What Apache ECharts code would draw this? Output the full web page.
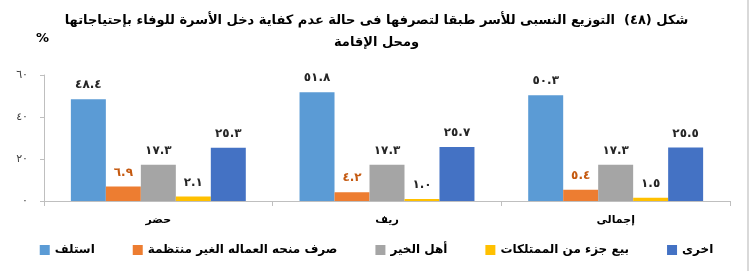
<!DOCTYPE html>
<html>
<head>
<meta charset="utf-8">
<script src="https://cdn.jsdelivr.net/npm/echarts@6/dist/echarts.min.js"></script>
<style>
html,body{margin:0;padding:0;background:#fff;}
#chart{width:753px;height:271px;}
</style>
</head>
<body>
<div id="chart"></div>
<script>
const titleText = 'شكل (٤٨)  التوزيع النسبى للأسر طبقا لتصرفها فى حالة عدم كفاية دخل الأسرة للوفاء بإحتياجاتها\nومحل الإقامة';
const categories = ['حضر', 'ريف', 'إجمالى'];
const seriesNames = ['استلف', 'صرف منحه العماله الغير منتظمة', 'أهل الخير', 'بيع جزء من الممتلكات', 'اخرى'];
const borrow = [48.4, 51.8, 50.3];
const grant = [6.9, 4.2, 5.4];
const charity = [17.3, 17.3, 17.3];
const sellAssets = [2.1, 1.0, 1.5];
const other = [25.3, 25.7, 25.5];
const yTicks = [0, 20, 40, 60];
const yTickLabels = ['٠', '٢٠', '٤٠', '٦٠'];

const colors = ['#5B9BD5', '#ED7D31', '#A5A5A5', '#FFC000', '#4472C4'];
const labelColors = ['#262626', '#C55A11', '#262626', '#262626', '#262626'];
const FONT = '"DejaVu Sans", sans-serif';

function toArabicDigits(v) {
  const d = '٠١٢٣٤٥٦٧٨٩';
  return v.toFixed(1).replace(/[0-9]/g, c => d[+c]);
}

const allData = [borrow, grant, charity, sellAssets, other];

const chart = echarts.init(document.getElementById('chart'), null, {renderer: 'canvas'});
chart.setOption({
  animation: false,
  color: colors,
  title: {
    text: titleText,
    left: 'center',
    top: 5,
    textStyle: {fontFamily: FONT, fontSize: 13, fontWeight: 'bold', color: '#000', lineHeight: 22}
  },
  graphic: [
    {type: 'text', left: 36, top: 32, style: {text: '%', font: 'bold 13px "DejaVu Sans", sans-serif', fill: '#000'}},
    {type: 'line', shape: {x1: 748, y1: 0, x2: 748, y2: 271}, style: {stroke: '#D9D9D9', lineWidth: 2}}
  ],
  legend: {
    bottom: 10,
    left: 'center',
    itemWidth: 10,
    itemHeight: 10,
    itemGap: 38,
    icon: 'rect',
    textStyle: {fontFamily: FONT, fontSize: 12, fontWeight: 'bold', color: '#000'},
    data: seriesNames
  },
  grid: {left: 44, right: 23, top: 75, bottom: 70},
  xAxis: {
    type: 'category',
    data: categories,
    axisLine: {lineStyle: {color: '#BFBFBF'}},
    axisTick: {show: true, length: 5, lineStyle: {color: '#BFBFBF'}},
    axisLabel: {margin: 14, fontFamily: FONT, fontSize: 11, fontWeight: 'bold', color: '#000'}
  },
  yAxis: {
    type: 'value',
    min: 0, max: 60, interval: 20,
    splitLine: {show: false},
    axisLine: {show: true, lineStyle: {color: '#BFBFBF'}},
    axisTick: {show: true, length: 4, lineStyle: {color: '#BFBFBF'}},
    axisLabel: {
      margin: 16,
      fontFamily: FONT, fontSize: 11, color: '#404040',
      formatter: v => yTickLabels[yTicks.indexOf(v)]
    }
  },
  series: seriesNames.map((name, i) => ({
    name: name,
    type: 'bar',
    data: allData[i],
    barGap: '0%',
    barCategoryGap: '23.5%',
    itemStyle: {color: colors[i]},
    label: {
      show: true,
      position: 'top',
      distance: 8,
      fontFamily: FONT,
      fontSize: 12,
      fontWeight: 'bold',
      color: labelColors[i],
      formatter: p => toArabicDigits(p.value)
    }
  }))
});
</script>
</body>
</html>
